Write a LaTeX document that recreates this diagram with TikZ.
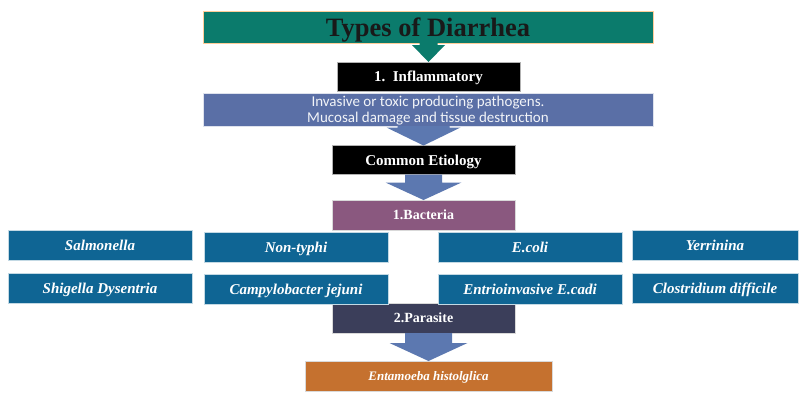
\documentclass[tikz,border=0pt]{standalone}
\usepackage{fontspec}
\setmainfont{Liberation Serif}
\newfontfamily\bandfont{Carlito}
\usetikzlibrary{calc}

\definecolor{titleteal}{HTML}{0B7B6C}
\definecolor{bandblue}{HTML}{5A6FA6}
\definecolor{arrowblue}{HTML}{5C78B0}
\definecolor{boxblue}{HTML}{0F6594}
\definecolor{bactpurple}{HTML}{8A587F}
\definecolor{paradark}{HTML}{3B3E5A}
\definecolor{entorange}{HTML}{C5712F}

\tikzset{
  every node/.style={inner sep=0pt, outer sep=0pt, anchor=center, text depth=0pt},
  headbox/.style={fill=black, draw=gray!60, line width=0.4pt, text=white,
    font=\bfseries\fontsize{15}{17}\selectfont, minimum width=183pt, minimum height=29pt},
  germbox/.style={fill=boxblue, draw=white!75!boxblue, line width=0.5pt, text=white,
    font=\bfseries\itshape\fontsize{15}{17}\selectfont, minimum width=184pt, minimum height=30pt},
  classbox/.style={draw=white!70!gray, line width=0.4pt, text=white,
    font=\bfseries\fontsize{14}{16}\selectfont, minimum width=183pt, minimum height=30pt},
}

% block arrow from the bottom of one node to the top of another:
% #1 colour, #2 upper node, #3 lower node, #4 shaft half-width,
% #5 head half-width, #6 shaft length
\newcommand\blockarrow[6]{%
  \fill[#1] let \p1=(#2.south), \p2=(#3.north) in
    (\x2-#4,\y1) -- (\x2+#4,\y1) -- (\x2+#4,\y1-#6) -- (\x2+#5,\y1-#6)
    -- (\x2,\y2) -- (\x2-#5,\y1-#6) -- (\x2-#4,\y1-#6) -- cycle;}

\begin{document}
\begin{tikzpicture}[x=1pt,y=-1pt]
\useasboundingbox (0,0) rectangle (805,392);
\fill[white] (0,0) rectangle (805,392);

% title and first class
\node[fill=titleteal, draw=orange!40, line width=0.5pt, minimum width=450pt, minimum height=32pt,
  font=\bfseries\fontsize{26.5}{30}\selectfont, text=black!90] (title) at (428,27) {Types of Diarrhea};
\node[headbox] (infl) at (428.5,76.5) {1.\ \ Inflammatory};
\node[fill=bandblue, draw=white!80!bandblue, line width=0.4pt, minimum width=450pt, minimum height=33pt,
  text=white!92!bandblue, font=\bandfont\fontsize{15}{15.5}\selectfont, align=center]
  (band) at (428,109.5) {Invasive or toxic producing pathogens.\\Mucosal damage and tissue destruction};

% etiology
\node[headbox] (etio) at (423.5,160) {Common Etiology};
\node[classbox, fill=bactpurple] (bact) at (423.5,215) {1.Bacteria};
\node[classbox, fill=paradark] (para) at (423.5,318) {2.Parasite};

% bacteria
\node[germbox] (salm) at (100,245) {Salmonella};
\node[germbox] (nont) at (296,247) {Non-typhi};
\node[germbox] (ecol) at (530,247) {E.coli};
\node[germbox, minimum width=166pt] (yerr) at (715,245) {Yerrinina};
\node[germbox] (shig) at (100,288) {Shigella Dysentria};
\node[germbox] (camp) at (296,289) {Campylobacter jejuni};
\node[germbox] (entr) at (530,289.5) {Entrioinvasive E.cadi};
\node[germbox, minimum width=166pt] (clos) at (715,288.5) {Clostridium difficile};

% parasite
\node[fill=entorange, draw=white!70!gray, line width=0.4pt, minimum width=247pt, minimum height=30pt,
  text=white, font=\bfseries\itshape\fontsize{13}{15}\selectfont] (ent) at (428.5,376) {Entamoeba histolglica};

% block arrows
\blockarrow{titleteal}{title}{infl}{9}{16.5}{2}
\blockarrow{arrowblue}{band}{etio}{26}{37}{1.5}
\blockarrow{arrowblue}{etio}{bact}{18.5}{38}{8}
\blockarrow{arrowblue}{para}{ent}{23.5}{39}{10}
\end{tikzpicture}
\end{document}
